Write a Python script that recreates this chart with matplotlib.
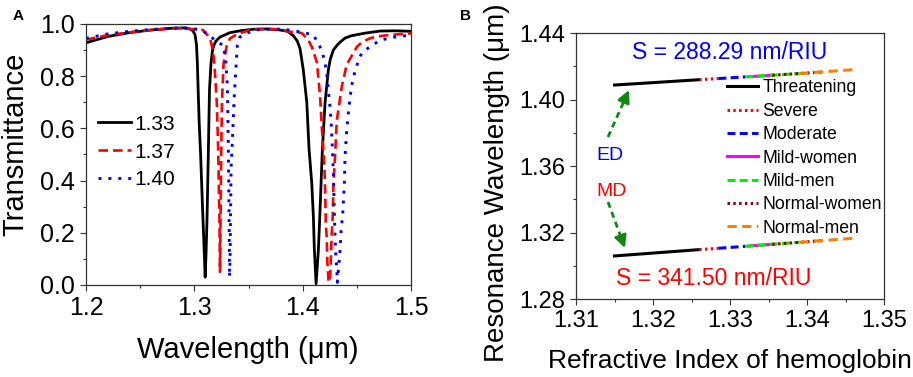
import numpy as np
import matplotlib
matplotlib.use("Agg")
from matplotlib import pyplot as plt
from matplotlib.ticker import MultipleLocator, FormatStrFormatter

plt.rcParams['font.family'] = ['Liberation Sans', 'DejaVu Sans']

# ---- panel A: transmittance spectra ----
wl_133 = [1.200, 1.220, 1.240, 1.260, 1.280, 1.290, 1.295, 1.2985, 1.3006, 1.302, 1.3028,
          1.3035, 1.3045, 1.3058, 1.3071, 1.3080, 1.3092, 1.3100, 1.3108, 1.3117, 1.3129,
          1.3140, 1.3154, 1.3168, 1.3182, 1.3200, 1.3237, 1.333, 1.344, 1.355, 1.365,
          1.375, 1.3791, 1.3860, 1.3914, 1.3950, 1.3976, 1.4006, 1.4038, 1.4059, 1.4084,
          1.4099, 1.4108, 1.4124, 1.4145, 1.4158, 1.4170, 1.4182, 1.4207, 1.4237, 1.4255,
          1.4283, 1.4320, 1.4350, 1.4391, 1.4450, 1.4576, 1.4715, 1.485, 1.500]
tr_133 = [0.928, 0.952, 0.967, 0.977, 0.984, 0.985, 0.982, 0.975, 0.960, 0.920, 0.850,
          0.750, 0.620, 0.500, 0.350, 0.250, 0.120, 0.030, 0.120, 0.250, 0.500,
          0.750, 0.850, 0.900, 0.920, 0.935, 0.950, 0.967, 0.975, 0.980, 0.981,
          0.979, 0.977, 0.972, 0.955, 0.935, 0.905, 0.824, 0.700, 0.520, 0.390,
          0.260, 0.134, 0.005, 0.134, 0.260, 0.390, 0.520, 0.700, 0.824, 0.865,
          0.900, 0.920, 0.932, 0.946, 0.955, 0.965, 0.973, 0.974, 0.972]

wl_137 = [1.200, 1.220, 1.240, 1.260, 1.280, 1.290, 1.300, 1.308, 1.3145, 1.317, 1.3185,
          1.3207, 1.3220, 1.3225, 1.3232, 1.3237, 1.3242, 1.3248, 1.3255, 1.3270, 1.3300,
          1.3330, 1.3400, 1.3500, 1.3576, 1.3700, 1.3800, 1.3884, 1.3930, 1.3992, 1.4050,
          1.4087, 1.4133, 1.4145, 1.4160, 1.4176, 1.4200, 1.4207, 1.4213, 1.4222, 1.4228,
          1.4240, 1.4253, 1.4260, 1.4269, 1.4278, 1.4283, 1.4299, 1.4315, 1.4361, 1.4407,
          1.4500, 1.4546, 1.4620, 1.4684, 1.4800, 1.5000]
tr_137 = [0.940, 0.957, 0.968, 0.977, 0.983, 0.984, 0.980, 0.977, 0.946, 0.900, 0.850,
          0.700, 0.520, 0.400, 0.250, 0.050, 0.250, 0.500, 0.700, 0.850, 0.920,
          0.945, 0.962, 0.975, 0.980, 0.981, 0.979, 0.970, 0.970, 0.965, 0.940,
          0.910, 0.850, 0.790, 0.730, 0.610, 0.460, 0.370, 0.240, 0.180, 0.085,
          0.010, 0.030, 0.100, 0.200, 0.270, 0.375, 0.495, 0.630, 0.760, 0.845,
          0.912, 0.930, 0.945, 0.952, 0.958, 0.964]

wl_140 = [1.200, 1.220, 1.240, 1.260, 1.280, 1.295, 1.3053, 1.3110, 1.3170, 1.3237,
          1.3267, 1.3290, 1.3305, 1.3310, 1.3314, 1.3320, 1.3325, 1.3330, 1.3335, 1.3339,
          1.3353, 1.3367, 1.3382, 1.3397, 1.3420, 1.3480, 1.3607, 1.3750, 1.3850, 1.3976,
          1.4100, 1.4176, 1.4207, 1.4228, 1.4238, 1.4253, 1.4262, 1.4269, 1.4276, 1.4283,
          1.4288, 1.4292, 1.4299, 1.4305, 1.4315, 1.4320, 1.4330, 1.4345, 1.4355, 1.4370,
          1.4385, 1.4391, 1.4407, 1.4422, 1.4438, 1.4453, 1.4484, 1.4515, 1.4546, 1.4622,
          1.4715, 1.4850, 1.5000]
tr_140 = [0.945, 0.962, 0.972, 0.979, 0.984, 0.985, 0.978, 0.965, 0.945, 0.925,
          0.920, 0.860, 0.760, 0.630, 0.520, 0.300, 0.030, 0.100, 0.300, 0.450,
          0.570, 0.710, 0.820, 0.920, 0.950, 0.965, 0.980, 0.981, 0.978, 0.970,
          0.958, 0.900, 0.850, 0.790, 0.740, 0.680, 0.630, 0.570, 0.510, 0.430,
          0.345, 0.280, 0.180, 0.120, 0.060, 0.010, 0.060, 0.134, 0.210, 0.275,
          0.390, 0.490, 0.594, 0.660, 0.720, 0.766, 0.820, 0.860, 0.890, 0.913,
          0.938, 0.950, 0.958]

# ---- panel B: resonance wavelength vs refractive index ----
categories = ['Threatening', 'Severe', 'Moderate', 'Mild-women', 'Mild-men',
              'Normal-women', 'Normal-men']
n_start = [1.3150, 1.3260, 1.3285, 1.3325, 1.3320, 1.3355, 1.3390]
n_end = [1.3260, 1.3285, 1.3320, 1.3355, 1.3390, 1.3420, 1.3462]
ed_start = [1.4087, 1.4119, 1.4126, 1.4137, 1.4136, 1.4146, 1.4156]
ed_end = [1.4119, 1.4126, 1.4136, 1.4146, 1.4156, 1.4165, 1.4180]
md_start = [1.3059, 1.3097, 1.3105, 1.3119, 1.3117, 1.3129, 1.3141]
md_end = [1.3097, 1.3105, 1.3117, 1.3129, 1.3141, 1.3151, 1.3166]

W, H = 913, 377
fig = plt.figure(figsize=(W / 100, H / 100), dpi=100)


def fx(px):
    return px / W


def fy(py):
    return 1 - py / H


spine_c = '#333333'


def style_axes(ax, size):
    for s in ax.spines.values():
        s.set_color(spine_c)
        s.set_linewidth(0.9)
    ax.tick_params(which='both', direction='out', top=False, right=False,
                   colors=spine_c, labelcolor='black', labelsize=size, width=0.8)
    ax.tick_params(which='major', length=4, pad=4)
    ax.tick_params(which='minor', length=2.3)


# panel A
axA = fig.add_axes([fx(86), fy(285), fx(411 - 86), (285 - 24) / H])
axA.plot(wl_133, tr_133, color='black', lw=2.0, label='1.33', solid_joinstyle='round')
axA.plot(wl_137, tr_137, color='red', lw=1.9, ls=(0, (3.6, 1.9)), label='1.37')
axA.plot(wl_140, tr_140, color='blue', lw=2.1, ls=(0, (1, 2.4)), label='1.40')
axA.set_xlim(1.2, 1.5)
axA.set_ylim(0, 1.0)
axA.xaxis.set_major_locator(MultipleLocator(0.1))
axA.xaxis.set_minor_locator(MultipleLocator(0.05))
axA.yaxis.set_major_locator(MultipleLocator(0.2))
axA.yaxis.set_minor_locator(MultipleLocator(0.1))
axA.xaxis.set_major_formatter(FormatStrFormatter('%.1f'))
axA.yaxis.set_major_formatter(FormatStrFormatter('%.1f'))
style_axes(axA, 18)
axA.legend(loc='center left', bbox_to_anchor=((98 - 86) / 325, (285 - 152) / 261),
           frameon=False, fontsize=15, handlelength=1.6, handletextpad=0.15,
           borderpad=0, labelspacing=0.42, borderaxespad=0)
fig.text(fx(248), fy(358), 'Wavelength (μm)', ha='center', va='baseline', fontsize=21)
fig.text(fx(15), fy(144), 'Transmittance', ha='center', va='center', rotation=90,
         fontsize=21)
fig.text(fx(13), fy(20), 'A', fontsize=11, fontweight='bold', va='baseline')

# panel B
axB = fig.add_axes([fx(576), fy(299), fx(884 - 576), (299 - 33) / H])
colors = ['black', 'red', 'blue', 'magenta', '#00ee00', '#8b0000', '#ff8000']
styles = ['-', (0, (0.8, 1.1)), (0, (2.6, 1.4)), '-', (0, (2.6, 1.4)), (0, (0.8, 1.1)),
          (0, (3, 1.8))]
for i in range(len(categories)):
    axB.plot([n_start[i], n_end[i]], [ed_start[i], ed_end[i]], color=colors[i],
             ls=styles[i], lw=2.2, label=categories[i])
    axB.plot([n_start[i], n_end[i]], [md_start[i], md_end[i]], color=colors[i],
             ls=styles[i], lw=2.2)

# ED / MD arrows
green = '#118811'
for (x0, y0), (x1, y1) in [((1.31416, 1.37744), (1.31688, 1.40571)),
                           ((1.31416, 1.33835), (1.31636, 1.31068))]:
    xm = x0 + (x1 - x0) * 0.7
    ym = y0 + (y1 - y0) * 0.7
    axB.plot([x0, xm], [y0, ym], color=green, lw=2, ls=(0, (2.2, 1.6)))
    axB.annotate('', xy=(x1, y1), xytext=(xm, ym),
                 arrowprops=dict(arrowstyle='-|>', color=green, lw=2,
                                 mutation_scale=18, shrinkA=0, shrinkB=0))

axB.set_xlim(1.31, 1.35)
axB.set_ylim(1.28, 1.44)
axB.xaxis.set_major_locator(MultipleLocator(0.01))
axB.xaxis.set_minor_locator(MultipleLocator(0.005))
axB.yaxis.set_major_locator(MultipleLocator(0.04))
axB.yaxis.set_minor_locator(MultipleLocator(0.02))
axB.xaxis.set_major_formatter(FormatStrFormatter('%.2f'))
axB.yaxis.set_major_formatter(FormatStrFormatter('%.2f'))
style_axes(axB, 17)
axB.legend(loc='center left', bbox_to_anchor=((727 - 576) / 308, (299 - 158) / 266),
           frameon=False, fontsize=12.7, handlelength=1.75, handletextpad=0.25,
           borderpad=0, labelspacing=0.36, borderaxespad=0)

fig.text(fx(730), fy(59), 'S = 288.29 nm/RIU', color='blue', ha='center',
         va='baseline', fontsize=16.5)
fig.text(fx(714), fy(285), 'S = 341.50 nm/RIU', color='red', ha='center',
         va='baseline', fontsize=16.5)
fig.text(fx(610), fy(160), 'ED', color='blue', ha='center', va='baseline', fontsize=14)
fig.text(fx(612), fy(196), 'MD', color='red', ha='center', va='baseline', fontsize=14)
fig.text(fx(730), fy(368), 'Refractive Index of hemoglobin', ha='center',
         va='baseline', fontsize=19)
fig.text(fx(497), fy(183), 'Resonance Wavelength (μm)', ha='center', va='center',
         rotation=90, fontsize=20)
fig.text(fx(460), fy(20), 'B', fontsize=11, fontweight='bold', va='baseline')

fig.savefig('out.png', dpi=100)
